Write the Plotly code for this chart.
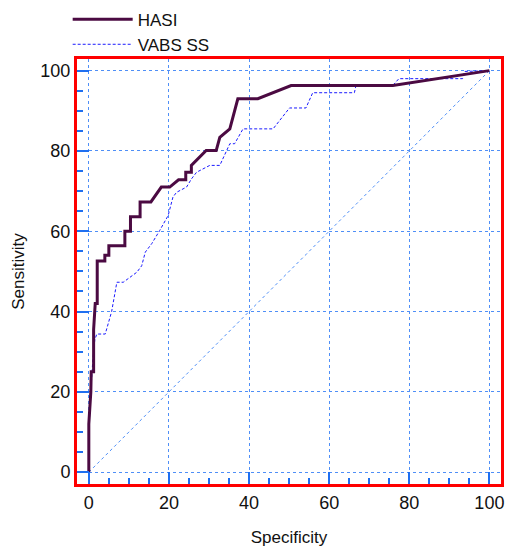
import plotly.graph_objects as go

# HASI ROC curve (specificity axis, sensitivity)
hasi_x = [0, 0, 0.5, 0.6, 1.2, 1.2, 1.6, 2.1, 2.1, 4.0, 4.0, 5.0, 5.0, 9.0, 9.0, 10.4, 10.4,
          12.8, 12.8, 15.5, 18.1, 20.2, 22.4, 24.2, 24.2, 25.6, 25.6, 29.3, 31.8, 32.7,
          35.2, 37.2, 42.2, 50.5, 75.9, 100]
hasi_y = [0, 12, 20, 25, 25, 35.5, 42, 42, 52.6, 52.6, 54, 54, 56.4, 56.4, 60, 60, 63.6,
          63.6, 67.3, 67.3, 71, 71, 72.8, 72.8, 74.7, 74.7, 76.4, 80.1, 80.1, 83.4,
          85.5, 93, 93, 96.3, 96.3, 100]

# VABS SS ROC curve
vabs_x = [0, 0, 0.5, 1.0, 1.5, 2.0, 4.1, 5.7, 7.0, 8.6, 12.0, 13.2, 14.1, 15.7, 17.7,
          19.8, 21.0, 21.9, 24.4, 25.6, 26.9, 30.2, 32.7, 35.2, 36.4, 38.5, 46.0, 50.1,
          54.2, 55.9, 66.3, 66.7, 75.9, 77.4, 93.3, 93.8, 100]
vabs_y = [0, 10, 20, 28, 33, 34.4, 34.4, 40, 47.3, 47.3, 49.8, 51.4, 54.8, 56.9, 60.2,
          63.9, 68.5, 69.7, 71, 73, 74.7, 76.4, 76.4, 81.8, 81.8, 85.5, 85.5, 90.7,
          90.7, 94.5, 94.5, 96.3, 96.3, 98, 98, 99.8, 100]

# Reference diagonal
diag_x = [0, 100]
diag_y = [0, 100]

tick_vals = [0, 20, 40, 60, 80, 100]
tick_text = ["0", "20", "40", "60", "80", "100"]

FONT = "Liberation Sans, Arial, sans-serif"
GRID = "#4f8ff7"
TICK = "#1f6ff0"

fig = go.Figure()
fig.add_trace(go.Scatter(x=diag_x, y=diag_y, mode="lines", showlegend=False,
                         line=dict(color=GRID, width=1, dash="dot"), hoverinfo="skip"))
fig.add_trace(go.Scatter(x=vabs_x, y=vabs_y, mode="lines", name="VABS SS",
                         line=dict(color="#1a1aff", width=1, dash="3px,2px")))
fig.add_trace(go.Scatter(x=hasi_x, y=hasi_y, mode="lines", name="HASI",
                         line=dict(color="#4b0a42", width=3)))

axis_common = dict(
    range=[-2.95, 102.9], tickvals=tick_vals, ticktext=tick_text,
    showgrid=True, gridcolor=GRID, griddash="dot", gridwidth=1,
    zeroline=False, showline=True, linecolor="#ff0000", linewidth=3, mirror=True,
    ticks="inside", ticklen=12, tickwidth=2, tickcolor=TICK,
    minor=dict(dtick=5, ticks="inside", ticklen=6, tickwidth=2, tickcolor=TICK, showgrid=False),
    tickfont=dict(family=FONT, size=18, color="#111111"),
)

fig.update_xaxes(**axis_common, title=dict(text="Specificity", font=dict(family=FONT, size=17, color="#111111"), standoff=20))
fig.update_yaxes(**axis_common, title=dict(text="Sensitivity", font=dict(family=FONT, size=17, color="#111111"), standoff=12))

fig.update_layout(
    width=507, height=549,
    margin=dict(l=77, r=6, t=59, b=65, autoexpand=False),
    plot_bgcolor="white", paper_bgcolor="white",
    showlegend=True,
    legend=dict(x=-0.022, y=1.135, xanchor="left", yanchor="top", traceorder="reversed",
                font=dict(family=FONT, size=17, color="#111111"), bgcolor="rgba(0,0,0,0)",
                itemwidth=60, tracegroupgap=0),
)

fig.write_html("out.html")
